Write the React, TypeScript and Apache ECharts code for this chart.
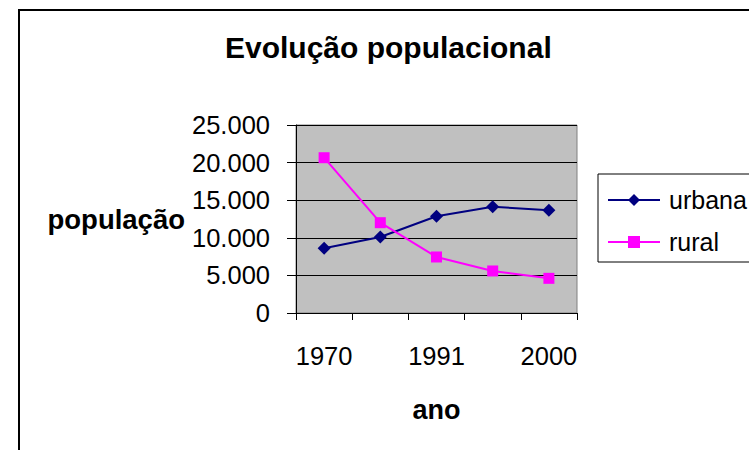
import React, { useEffect, useRef } from "react";
import * as echarts from "echarts";

const categories = ["1970", "1980", "1991", "1996", "2000"];
const urbana = [8600, 10100, 12860, 14140, 13660];
const rural = [20650, 12010, 7450, 5590, 4610];
const titleText = "Evolução populacional";
const yName = "população";
const xName = "ano";

const fmt = (v: number) => String(v).replace(/\B(?=(\d{3})+(?!\d))/g, ".");

export default function App() {
  const ref = useRef<HTMLDivElement>(null);
  useEffect(() => {
    if (!ref.current) return;
    const chart = echarts.init(ref.current, null, { renderer: "svg" });
    const font = "Liberation Sans, Arial, sans-serif";
    chart.setOption({
      animation: false,
      backgroundColor: "#ffffff",
      textStyle: { fontFamily: font },
      title: {
        text: titleText,
        left: 225,
        top: 32,
        padding: 0,
        textStyle: { fontFamily: font, fontSize: 30, fontWeight: "bold", color: "#000" },
      },
      graphic: [
        {
          type: "rect",
          shape: { x: 19, y: 10, width: 1200, height: 1200 },
          style: { fill: "none", stroke: "#000", lineWidth: 2 },
          silent: true,
        },
      ],
      legend: {
        orient: "vertical",
        left: 598,
        top: 174,
        padding: [13, 120, 7, 9],
        itemGap: 16,
        itemWidth: 52,
        itemHeight: 15,
        borderColor: "#000",
        borderWidth: 1,
        backgroundColor: "#fff",
        textStyle: { fontFamily: font, fontSize: 25, color: "#000", lineHeight: 26, padding: [0, 0, 0, 4] },
        data: ["urbana", "rural"],
      },
      grid: {
        left: 296,
        right: 172,
        top: 125,
        bottom: 137,
        show: true,
        backgroundColor: "#C0C0C0",
        borderColor: "#808080",
        borderWidth: 1,
      },
      xAxis: {
        type: "category",
        data: categories,
        boundaryGap: true,
        name: xName,
        nameLocation: "middle",
        nameGap: 83,
        nameTextStyle: { fontFamily: font, fontSize: 27, fontWeight: "bold", color: "#000" },
        axisLine: { lineStyle: { color: "#000", width: 1 } },
        axisTick: { show: true, interval: 0, length: 7, lineStyle: { color: "#000" } },
        axisLabel: { interval: 1, margin: 30, fontFamily: font, fontSize: 25.5, color: "#000" },
        splitLine: { show: false },
      },
      yAxis: {
        type: "value",
        min: 0,
        max: 25000,
        interval: 5000,
        name: yName,
        nameLocation: "middle",
        nameRotate: 0,
        nameGap: 111,
        nameTextStyle: { fontFamily: font, fontSize: 27.5, fontWeight: "bold", color: "#000" },
        axisLine: { show: true, lineStyle: { color: "#000", width: 1 } },
        axisTick: { show: true, length: 9, lineStyle: { color: "#000" } },
        axisLabel: { margin: 26, fontFamily: font, fontSize: 25.5, color: "#000", formatter: (v: number) => fmt(v) },
        splitLine: { show: true, lineStyle: { color: "#000", width: 1 } },
      },
      series: [
        {
          name: "urbana",
          type: "line",
          data: urbana,
          symbol: "diamond",
          symbolSize: 13,
          lineStyle: { color: "#000080", width: 2 },
          itemStyle: { color: "#000080" },
        },
        {
          name: "rural",
          type: "line",
          data: rural,
          symbol: "rect",
          symbolSize: 11,
          lineStyle: { color: "#FF00FF", width: 2 },
          itemStyle: { color: "#FF00FF" },
        },
      ],
    });
    return () => chart.dispose();
  }, []);
  return (
    <div
      ref={ref}
      style={{ position: "fixed", left: 0, top: 0, width: 749, height: 450 }}
    />
  );
}
